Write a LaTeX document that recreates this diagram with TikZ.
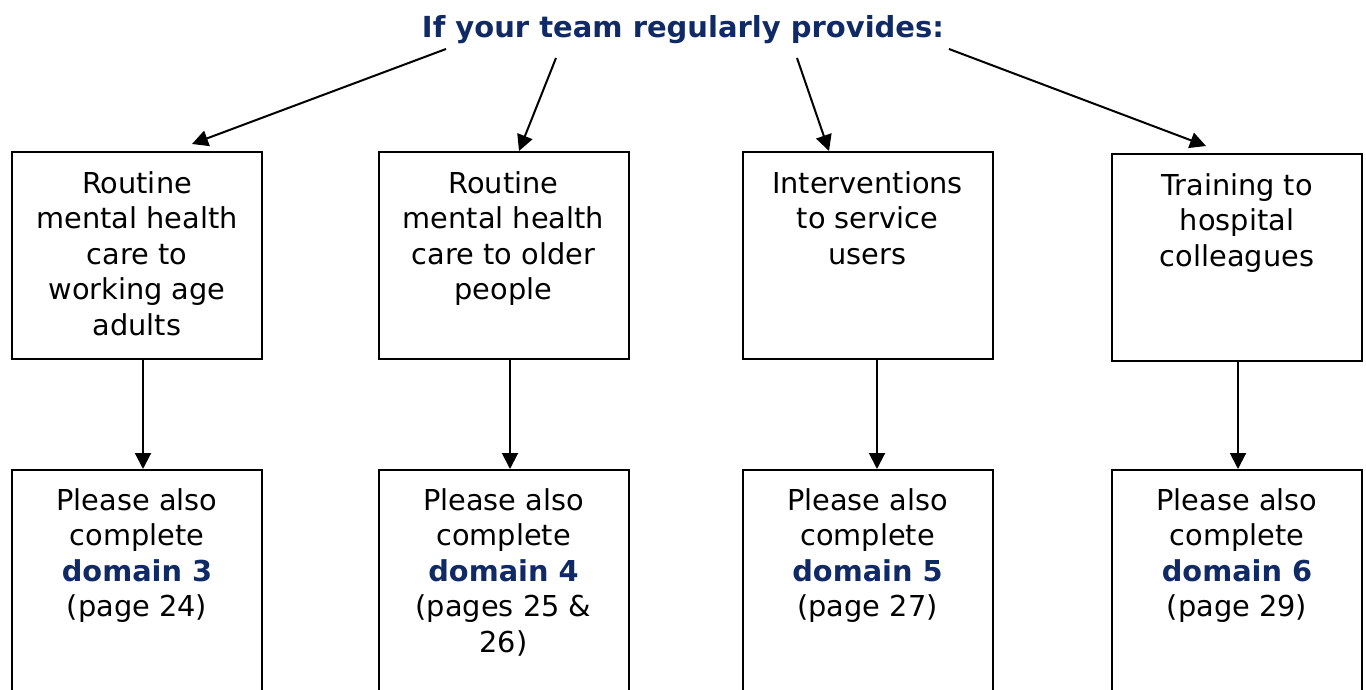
\documentclass[tikz,border=0pt]{standalone}
\usepackage{fontspec}
\setmainfont{DejaVu Sans}
\usetikzlibrary{arrows.meta, positioning}
\definecolor{navy}{RGB}{16,42,102}

\begin{document}
\begin{tikzpicture}[x=0.5pt, y=-0.5pt,
  every node/.style={font=\fontsize{14.4}{17.75}\selectfont},
  box/.style={rectangle, draw, line width=1pt, minimum width=125pt,
              minimum height=#1, inner sep=0pt},
  txt/.style={align=center, inner sep=0pt},
  arr/.style={-{Triangle[length=8pt, width=8pt]}, line width=1pt}
]
\clip (0,0) rectangle (1366,690);

\node[font=\fontsize{14.5}{17}\selectfont\bfseries, text=navy] (head) at (683,30)
  {If your team regularly provides:};

% what the team provides
\node[box=103.5pt] (b1) at (137,255.5) {};
\node[box=103.5pt] (b2) at (503.5,255.5) {};
\node[box=103.5pt] (b3) at (867.5,255.5) {};
\node[box=103.5pt] (b4) at (1237,257.5) {};
\node[txt, below=10pt of b1.north] (t1) {Routine\\mental health\\care to\\working age\\adults};
\node[txt, below=10pt of b2.north] (t2) {Routine\\mental health\\care to older\\people};
\node[txt, below=10pt of b3.north] (t3) {Interventions\\to service\\users};
\node[txt, below=10pt of b4.north] (t4) {Training to\\hospital\\colleagues};

% which domain to complete
\node[box=130pt] (p1) at (137,600) {};
\node[box=130pt] (p2) at (503.5,600) {};
\node[box=130pt] (p3) at (867.5,600) {};
\node[box=130pt] (p4) at (1237,600) {};
\node[txt, below=9.5pt of p1.north] (d1) {Please also\\complete\\\textcolor{navy}{\textbf{domain 3}}\\(page 24)};
\node[txt, below=9.5pt of p2.north] (d2) {Please also\\complete\\\textcolor{navy}{\textbf{domain 4}}\\(pages 25 \&\\26)};
\node[txt, below=9.5pt of p3.north] (d3) {Please also\\complete\\\textcolor{navy}{\textbf{domain 5}}\\(page 27)};
\node[txt, below=9.5pt of p4.north] (d4) {Please also\\complete\\\textcolor{navy}{\textbf{domain 6}}\\(page 29)};

% arrows out of the heading
\coordinate (s1) at (446,49);
\coordinate (s2) at (556,58);
\coordinate (s3) at (797,58);
\coordinate (s4) at (949,49);
\draw[arr] (s1) -- ([xshift=27.5pt, yshift=3.5pt]b1.north);
\draw[arr] (s2) -- ([xshift=7.75pt]b2.north);
\draw[arr] (s3) -- ([xshift=-19.25pt]b3.north);
\draw[arr] (s4) -- ([xshift=-15.5pt, yshift=3.5pt]b4.north);

\draw[arr] ([xshift=3pt]b1.south) -- ([xshift=3pt]p1.north);
\draw[arr] ([xshift=3.25pt]b2.south) -- ([xshift=3.25pt]p2.north);
\draw[arr] ([xshift=4.75pt]b3.south) -- ([xshift=4.75pt]p3.north);
\draw[arr] ([xshift=0.5pt]b4.south) -- ([xshift=0.5pt]p4.north);
\end{tikzpicture}
\end{document}
